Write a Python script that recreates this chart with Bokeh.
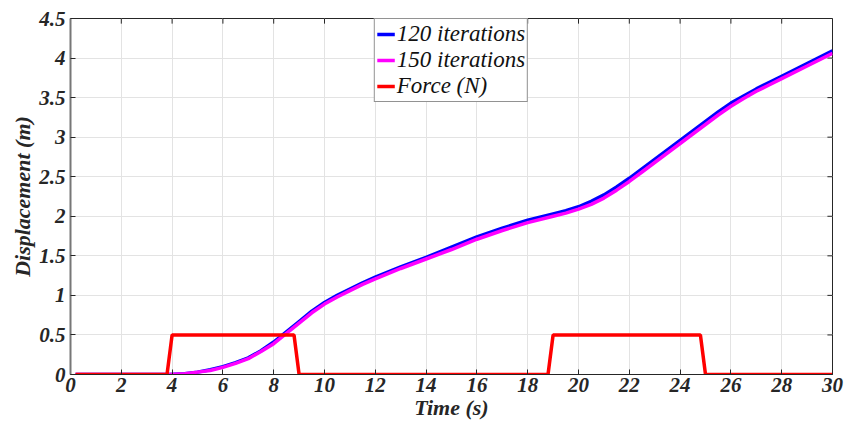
from bokeh.plotting import figure
from bokeh.models import Range1d, FixedTicker, Legend, LegendItem
from bokeh.embed import file_html
from bokeh.resources import INLINE

# Data
t_disp = [0.2, 1, 2, 3, 3.9, 4.5, 5, 5.5, 6, 6.5, 7, 7.5, 8, 8.5, 9, 9.5, 10, 10.5, 11, 11.5,
          12, 13, 14, 15, 16, 17, 18, 19, 19.5, 20, 20.5, 21, 21.5, 22, 22.5, 23, 24, 24.5,
          25, 25.5, 26, 26.5, 27, 27.5, 28, 29, 30]
disp_120 = [0, 0, 0, 0, 0, 0.01, 0.03, 0.06, 0.1, 0.15, 0.21, 0.3, 0.41, 0.54, 0.67, 0.8,
            0.91, 1.0, 1.08, 1.16, 1.23, 1.36, 1.48, 1.61, 1.74, 1.85, 1.95, 2.03, 2.07, 2.12,
            2.19, 2.27, 2.37, 2.48, 2.6, 2.72, 2.96, 3.08, 3.2, 3.32, 3.43, 3.52, 3.61, 3.69,
            3.77, 3.93, 4.09]
disp_150 = [0, 0, 0, 0, 0, 0.01, 0.03, 0.05, 0.09, 0.14, 0.2, 0.29, 0.39, 0.52, 0.65, 0.78,
            0.89, 0.98, 1.06, 1.14, 1.21, 1.34, 1.46, 1.58, 1.71, 1.82, 1.92, 2.0, 2.04, 2.09,
            2.15, 2.23, 2.33, 2.44, 2.56, 2.68, 2.92, 3.04, 3.16, 3.28, 3.39, 3.49, 3.58, 3.66,
            3.74, 3.9, 4.06]
t_force = [0.2, 3.8, 4.0, 8.8, 9.0, 18.8, 19.0, 24.8, 25.0, 30]
force = [0, 0, 0.5, 0.5, 0, 0, 0.5, 0.5, 0, 0]

x_ticks = list(range(0, 31, 2))
y_ticks = [0, 0.5, 1, 1.5, 2, 2.5, 3, 3.5, 4, 4.5]
y_tick_labels = {0: "0", 0.5: "0.5", 1: "1", 1.5: "1.5", 2: "2", 2.5: "2.5", 3: "3",
                 3.5: "3.5", 4: "4", 4.5: "4.5"}

FONT = "Liberation Serif"
X_MAX, Y_MAX = 30, 4.5

p = figure(width=846, height=428, output_backend="svg", toolbar_location=None,
           x_range=Range1d(0, X_MAX), y_range=Range1d(0, Y_MAX),
           min_border_left=70, min_border_right=14, min_border_top=18, min_border_bottom=54)
p.background_fill_color = "white"
p.border_fill_color = "white"
p.outline_line_color = "#262626"
p.outline_line_width = 1

p.xgrid.ticker = FixedTicker(ticks=x_ticks)
p.ygrid.ticker = FixedTicker(ticks=y_ticks)
p.grid.grid_line_color = "#e3e3e3"
p.grid.grid_line_width = 1

# inward ticks on the top and right edges of the box
p.segment(x0=x_ticks, y0=[Y_MAX] * len(x_ticks), x1=x_ticks,
          y1=[Y_MAX - 0.065] * len(x_ticks), line_color="#262626", line_width=1)
p.segment(x0=[X_MAX] * len(y_ticks), y0=y_ticks, x1=[X_MAX - 0.2] * len(y_ticks),
          y1=y_ticks, line_color="#262626", line_width=1)

r1 = p.line(t_disp, disp_120, line_color="#0000ff", line_width=3.5)
r2 = p.line(t_disp, disp_150, line_color="#ff00ff", line_width=3.5)
r3 = p.line(t_force, force, line_color="#ff0000", line_width=3.5)

for ax in (p.xaxis[0], p.yaxis[0]):
    ax.major_label_text_font = FONT
    ax.major_label_text_font_style = "bold italic"
    ax.major_label_text_font_size = "21px"
    ax.major_label_text_color = "#262626"
    ax.axis_label_text_font = FONT
    ax.axis_label_text_font_style = "bold italic"
    ax.axis_label_text_font_size = "22px"
    ax.axis_label_text_color = "#262626"
    ax.major_tick_in = 5
    ax.major_tick_out = 0
    ax.minor_tick_line_color = None
    ax.axis_line_color = "#262626"
    ax.major_tick_line_color = "#262626"

p.xaxis.ticker = FixedTicker(ticks=x_ticks)
p.yaxis.ticker = FixedTicker(ticks=y_ticks)
p.yaxis.major_label_overrides = y_tick_labels
p.xaxis.axis_label = "Time (s)"
p.yaxis.axis_label = "Displacement (m)"
p.xaxis.axis_label_standoff = 0
p.yaxis.axis_label_standoff = 1
p.xaxis.major_label_standoff = 3
p.yaxis.major_label_standoff = 5
p.yaxis.axis_line_color = "#777777"
p.yaxis.axis_line_width = 2

legend = Legend(items=[LegendItem(label="120 iterations", renderers=[r1]),
                       LegendItem(label="150 iterations", renderers=[r2]),
                       LegendItem(label="Force (N)", renderers=[r3])],
                location="top_center", margin=0, padding=2, spacing=0,
                label_text_font=FONT, label_text_font_style="italic",
                label_text_font_size="23px", label_text_color="#111111",
                label_height=22, glyph_height=22,
                glyph_width=18, label_standoff=2,
                border_line_color="#262626", border_line_width=1,
                background_fill_color="white", background_fill_alpha=1)
p.add_layout(legend, "center")

open("out.html", "w").write(file_html(p, INLINE))
